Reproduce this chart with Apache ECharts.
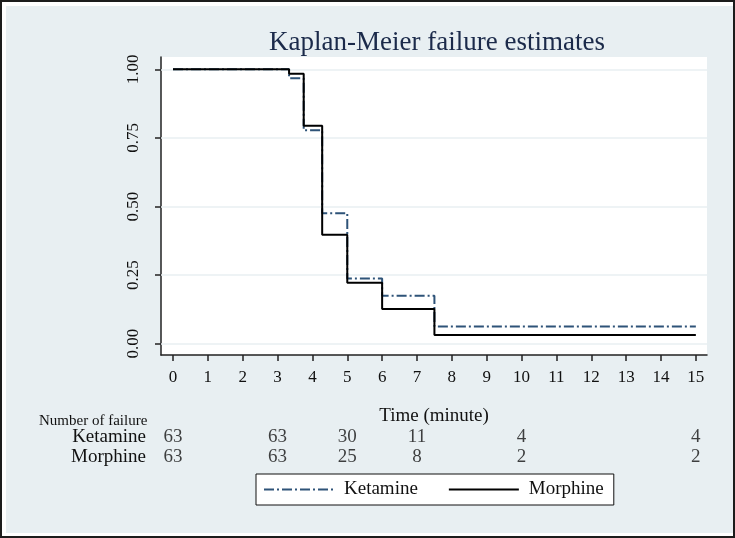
<!DOCTYPE html>
<html>
<head>
<meta charset="utf-8">
<script src="https://cdn.jsdelivr.net/npm/echarts@6/dist/echarts.min.js"></script>
<style>
  html, body { margin: 0; padding: 0; background: #fff; }
  #frame { position: absolute; left: 0; top: 0; width: 735px; height: 538px; box-sizing: border-box; border: 2px solid #1c1c1c; background: #fff; }
  #bg { position: absolute; left: 6px; top: 6px; right: 2px; bottom: 5px; background: #e8eff2; }
  #chart { position: absolute; left: 0; top: 0; width: 735px; height: 538px; }
</style>
</head>
<body>
<div id="frame"></div>
<div id="bg"></div>
<div id="chart"></div>
<script>
// ---- data ----
const stepTimes = [0, 3.33, 3.75, 4.28, 5.0, 6.0, 7.5, 15];
const ketamineKM = [1, 0.968, 0.778, 0.476, 0.238, 0.175, 0.063, 0.063];
const morphineKM = [1, 0.984, 0.794, 0.397, 0.222, 0.127, 0.032, 0.032];
const xTicks = [0,1,2,3,4,5,6,7,8,9,10,11,12,13,14,15];
const yTicks = [0, 0.25, 0.5, 0.75, 1];
const riskTimes = [0, 3, 5, 7, 10, 15];
const ketamineN = [63, 63, 30, 11, 4, 4];
const morphineN = [63, 63, 25, 8, 2, 2];
const groups = ['Ketamine', 'Morphine'];

const FONT = 'Liberation Serif';
const chart = echarts.init(document.getElementById('chart'), null, { renderer: 'canvas' });

const kData = stepTimes.map((t, i) => [t, ketamineKM[i]]);
const mData = stepTimes.map((t, i) => [t, morphineKM[i]]);
const riskData = [];
riskTimes.forEach((t, i) => { riskData.push([t, 0, ketamineN[i]]); riskData.push([t, 1, morphineN[i]]); });

const option = {
  backgroundColor: 'transparent',
  animation: false,
  title: [
    { text: 'Kaplan-Meier failure estimates', left: 432, top: 24, textAlign: 'center',
      textStyle: { fontFamily: FONT, fontSize: 27, fontWeight: 'normal', color: '#1b2a4a' } },
    { text: 'Number of failure', left: 34, top: 409,
      textStyle: { fontFamily: FONT, fontSize: 15, fontWeight: 'normal', color: '#111' } }
  ],
  legend: {
    left: 256, top: 474,
    orient: 'horizontal',
    backgroundColor: '#fff', borderColor: '#111', borderWidth: 1,
    padding: [6, 10, 6, 7],
    itemWidth: 70, itemHeight: 14, itemGap: 30,
    itemStyle: { opacity: 0, borderWidth: 0 },
    textStyle: { fontFamily: FONT, fontSize: 19, color: '#111', padding: [0, 0, 0, 5] },
    data: groups
  },
  grid: [
    { left: 161, right: 28, top: 57, bottom: 183, show: true, backgroundColor: '#fff', borderWidth: 0 },
    { left: 161, right: 28, top: 427, height: 40, show: false }
  ],
  xAxis: [
    { type: 'value', gridIndex: 0, min: -0.344, max: 15.32,
      name: 'Time (minute)', nameLocation: 'middle', nameGap: 52,
      nameTextStyle: { fontFamily: FONT, fontSize: 19, color: '#111' },
      axisLine: { show: true, onZero: false, lineStyle: { color: '#222', width: 1.5 } },
      axisTick: { show: true, length: 6, customValues: xTicks, lineStyle: { color: '#222', width: 1.5 } },
      axisLabel: { customValues: xTicks, margin: 14, fontFamily: FONT, fontSize: 17, color: '#111' },
      splitLine: { show: false } },
    { type: 'value', gridIndex: 1, min: -0.344, max: 15.32, show: false }
  ],
  yAxis: [
    { type: 'value', gridIndex: 0, min: -0.041, max: 1.045,
      axisLine: { show: true, onZero: false, lineStyle: { color: '#222', width: 1.5 } },
      axisTick: { show: true, length: 6, customValues: yTicks, lineStyle: { color: '#222', width: 1.5 } },
      axisLabel: { customValues: yTicks, rotate: 90, margin: 19, fontFamily: FONT, fontSize: 17, color: '#111',
        formatter: v => v.toFixed(2) },
      splitLine: { show: false } },
    { type: 'category', gridIndex: 1, data: groups, inverse: true,
      axisLine: { show: false }, axisTick: { show: false },
      axisLabel: { interval: 0, margin: 15, fontFamily: FONT, fontSize: 19, color: '#111' } }
  ],
  series: [
    { name: 'Ketamine', type: 'line', xAxisIndex: 0, yAxisIndex: 0, step: 'end', symbol: 'none', data: kData,
      z: 3,
      lineStyle: { color: '#2e5378', width: 2, type: [10, 3, 2, 3] },
      itemStyle: { color: '#2e5378' },
      markLine: { silent: true, symbol: 'none', z: 1, label: { show: false },
        lineStyle: { color: '#e8eff2', width: 1.5, type: 'solid' },
        data: yTicks.map(v => ({ yAxis: v })) } },
    { name: 'Morphine', type: 'line', xAxisIndex: 0, yAxisIndex: 0, step: 'end', symbol: 'none', data: mData,
      z: 4,
      lineStyle: { color: '#000', width: 2, type: 'solid' },
      itemStyle: { color: '#000' } },
    { type: 'scatter', xAxisIndex: 1, yAxisIndex: 1, data: riskData, symbolSize: 1,
      itemStyle: { color: 'rgba(0,0,0,0)' }, silent: true,
      label: { show: true, position: 'inside', formatter: p => String(p.data[2]),
        fontFamily: FONT, fontSize: 19, color: '#111' } }
  ]
};
chart.setOption(option);
</script>
</body>
</html>
